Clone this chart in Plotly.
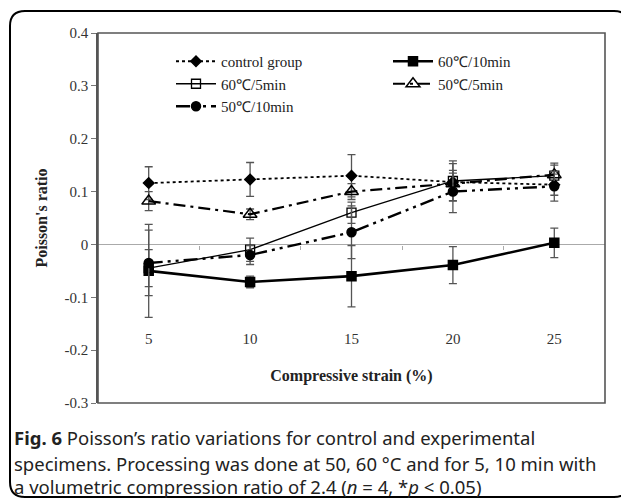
import plotly.graph_objects as go

# ---- data ----
strain = [5, 10, 15, 20, 25]
strain_labels = ["5", "10", "15", "20", "25"]

control = [0.116, 0.123, 0.130, 0.118, 0.113]
control_err = [0.031, 0.032, 0.040, 0.035, 0.020]

t60_10 = [-0.050, -0.071, -0.060, -0.039, 0.003]
t60_10_err = [0.088, 0.011, 0.058, 0.035, 0.028]

t60_5 = [-0.045, -0.010, 0.060, 0.120, 0.130]
t60_5_err = [0.035, 0.022, 0.020, 0.038, 0.020]

t50_5 = [0.082, 0.057, 0.100, 0.115, 0.132]
t50_5_err = [0.018, 0.010, 0.015, 0.020, 0.022]

t50_10 = [-0.035, -0.020, 0.023, 0.100, 0.110]
t50_10_err = [0.062, 0.018, 0.050, 0.040, 0.028]

y_ticks = [0.4, 0.3, 0.2, 0.1, 0, -0.1, -0.2, -0.3]
y_ticktext = ["0.4", "0.3", "0.2", "0.1", "0", "-0.1", "-0.2", "-0.3"]
boundaries = [7.5, 12.5, 17.5, 22.5]

# ---- layout geometry (page pixels; the page body has an 8px margin) ----
OFF = 8
PAGE_W, PAGE_H = 629, 502
W, H = PAGE_W - OFF, PAGE_H - OFF
L, R, T, B = 98, 605, 33, 403
PW, PH = R - L, B - T


def px(x):
    return (x - L) / PW


def py(y):
    return (B - y) / PH


SERIF = "Liberation Serif, Times New Roman, serif"
ERRC = "#555555"

fig = go.Figure()


def add(name, y, err, dash, width, symbol, size, mline=1.5, mfill="black"):
    fig.add_trace(go.Scatter(
        x=strain, y=y, name=name, mode="lines+markers",
        line=dict(color="black", width=width, dash=dash),
        marker=dict(symbol=symbol, size=size, color=mfill,
                    line=dict(color="black", width=mline)),
        error_y=dict(type="data", array=err, visible=True,
                     color=ERRC, thickness=1.3, width=4),
    ))


add("control group", control, control_err, "dot", 1.8, "diamond", 8)
add("60℃/10min", t60_10, t60_10_err, "solid", 2.6, "square", 9)
add("60℃/5min", t60_5, t60_5_err, "solid", 1.3, "square-open", 9, mline=1.3)
add("50℃/5min", t50_5, t50_5_err, "12px,5px,3px,5px", 2.2, "triangle-up-open", 12, mline=1.5)
add("50℃/10min", t50_10, t50_10_err, "14px,5px,3px,5px,3px,5px", 2.4, "circle", 9)

# invisible helper trace for the label axis
fig.add_trace(go.Scatter(x=strain, y=[0] * len(strain), xaxis="x2", yaxis="y",
                         mode="markers", marker=dict(opacity=0),
                         showlegend=False, hoverinfo="skip"))

# outer rounded frame
fx0, fy0, fx1, fy1, r = 10, 11, 629, 497, 15
path = (f"M {px(fx0 + r)},{py(fy0)} L {px(fx1 - r)},{py(fy0)} "
        f"Q {px(fx1)},{py(fy0)} {px(fx1)},{py(fy0 + r)} "
        f"L {px(fx1)},{py(fy1 - r)} Q {px(fx1)},{py(fy1)} {px(fx1 - r)},{py(fy1)} "
        f"L {px(fx0 + r)},{py(fy1)} Q {px(fx0)},{py(fy1)} {px(fx0)},{py(fy1 - r)} "
        f"L {px(fx0)},{py(fy0 + r)} Q {px(fx0)},{py(fy0)} {px(fx0 + r)},{py(fy0)} Z")

shapes = [
    dict(type="path", xref="paper", yref="paper", path=path,
         line=dict(color="black", width=2)),
    dict(type="rect", xref="paper", yref="paper", x0=0, x1=1, y0=0, y1=1,
         line=dict(color="#555555", width=1.6), layer="above"),
]

caption_lines = [
    "<b>Fig. 6</b> Poisson’s ratio variations for control and experimental",
    "specimens. Processing was done at 50, 60 °C and for 5, 10 min with",
    "a volumetric compression ratio of 2.4 (<i>n</i> = 4, *<i>p</i> &lt; 0.05)",
]
caption_y = [438, 463, 487]
annotations = [
    dict(text=t, xref="paper", yref="paper", x=px(12), y=py(cy),
         xanchor="left", yanchor="middle", showarrow=False,
         font=dict(family="Noto Sans, Open Sans, sans-serif", size=18.5, color="#222222"))
    for t, cy in zip(caption_lines, caption_y)
]

fig.update_layout(
    width=W, height=H,
    margin=dict(l=L - OFF, r=PAGE_W - R, t=T - OFF, b=PAGE_H - B, pad=0),
    paper_bgcolor="white", plot_bgcolor="white",
    font=dict(family=SERIF, size=14, color="#333333"),
    showlegend=True,
    legend=dict(orientation="h", x=px(171), y=py(45), xanchor="left", yanchor="top",
                entrywidth=162, entrywidthmode="pixels",
                font=dict(family=SERIF, size=15, color="#222222"),
                bgcolor="rgba(0,0,0,0)", tracegroupgap=0, itemwidth=40),
    xaxis=dict(range=[2.5, 27.5], anchor="free", position=(0 - (-0.3)) / 0.7,
               showline=True, linecolor="#aaaaaa", linewidth=1.2,
               tickmode="array", tickvals=boundaries, showticklabels=False,
               ticks="outside", ticklen=4, tickcolor="#aaaaaa",
               showgrid=False, zeroline=False, layer="below traces"),
    xaxis2=dict(range=[2.5, 27.5], overlaying="x", anchor="free", position=py(328),
                showline=False, ticks="", tickmode="array", tickvals=strain,
                ticktext=strain_labels, showgrid=False, zeroline=False,
                tickfont=dict(family=SERIF, size=15, color="#333333"),
                title=dict(text="<b>Compressive strain (%)</b>", standoff=23,
                           font=dict(family=SERIF, size=16, color="#222222"))),
    yaxis=dict(range=[-0.3, 0.4], tickmode="array", tickvals=y_ticks, ticktext=y_ticktext,
               showline=True, linecolor="#555555", linewidth=1.6,
               ticks="outside", ticklen=5, tickcolor="#777777",
               showgrid=False, zeroline=False,
               tickfont=dict(family=SERIF, size=15, color="#333333"),
               title=dict(text="<b>Poisson's ratio</b>", standoff=13,
                          font=dict(family=SERIF, size=16, color="#222222"))),
    shapes=shapes,
    annotations=annotations,
)

fig.write_html("out.html")
